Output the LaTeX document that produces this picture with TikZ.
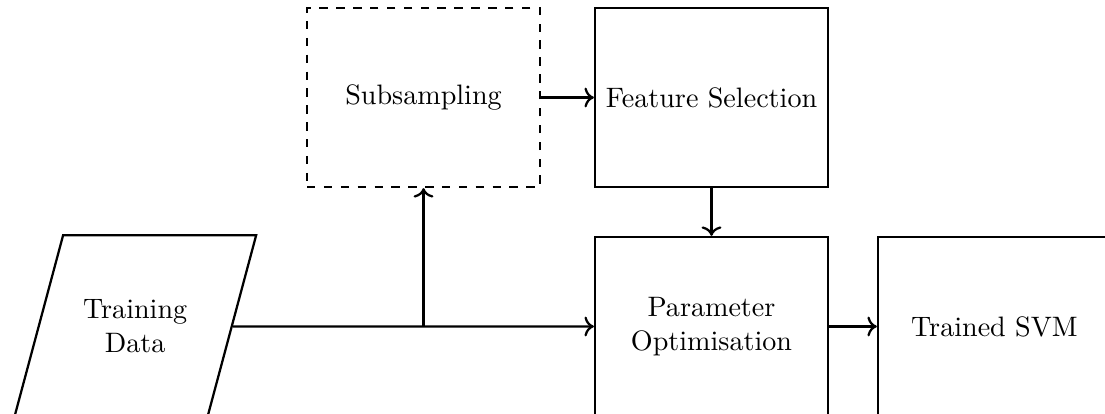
\documentclass[tikz,border=0pt]{standalone}
\usepackage{amsmath, amssymb}
\usepackage{tikz}
\usetikzlibrary{arrows.meta, positioning, shapes.geometric}

\begin{document}
\begin{tikzpicture}[
    >=To,
    thick,
    block/.style={draw, rectangle, minimum width=2.9125cm, minimum height=2.2375cm, align=center},
    optblock/.style={block, dashed},
    datablock/.style={draw, trapezium, trapezium left angle=75, trapezium right angle=105,
      trapezium stretches body, minimum width=3.025cm, inner ysep=0.81cm, align=center}
  ]
  \clip (0,0) rectangle (13.8125,-5.175);

  % Input
  \node[datablock] (data) at (1.69,-4.081) {Training\\Data};

  % Upper row
  \node[optblock] (sub) at (5.294,-1.219) {Subsampling};
  \node[block] (fs) at (8.894,-1.219) {Feature Selection};

  % Lower row
  \node[block] (popt) at (8.894,-4.081) {Parameter\\Optimisation};
  \node[block] (svm) at (12.431,-4.081) {Trained SVM};

  % Arrows
  \coordinate (split) at (data.east -| sub.south);
  \draw[->] (data.east) -- (popt.west);
  \draw[->] (split) -- (sub.south);
  \draw[->] (sub) -- (fs);
  \draw[->] (fs) -- (popt);
  \draw[->] (popt) -- (svm);
\end{tikzpicture}
\end{document}
